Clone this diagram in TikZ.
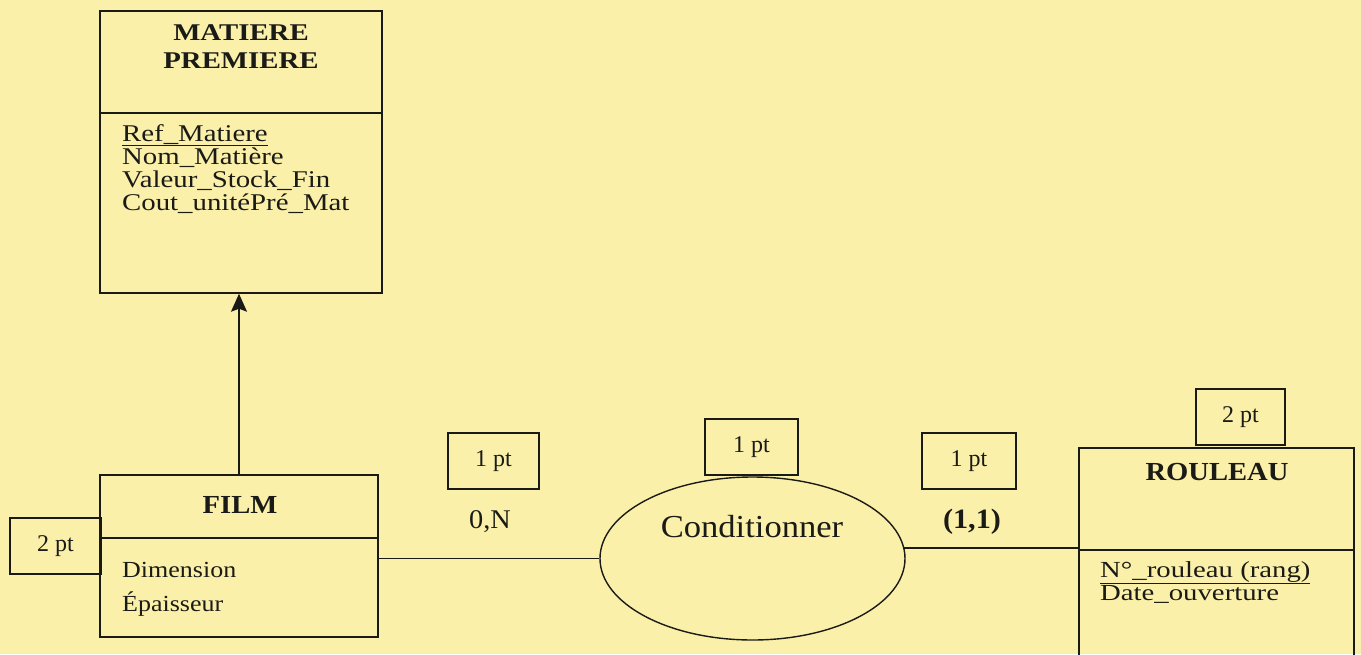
\documentclass[tikz,border=0pt]{standalone}
\usepackage{graphicx}
\usepackage{fontspec}
\setmainfont{Liberation Serif}
\usetikzlibrary{arrows.meta,shapes.geometric}
\definecolor{bg}{HTML}{FBF0A9}
\definecolor{ink}{HTML}{1A1A16}
\newcommand{\hsx}[2]{\scalebox{#1}[1]{#2}}
\newcommand{\fsz}[1]{\fontsize{#1}{#1}\selectfont}
\begin{document}
\begin{tikzpicture}[x=1pt,y=-1pt,
  ent/.style={draw=ink, line width=1.4pt, inner sep=0pt, rectangle},
  ptbox/.style={draw=ink, line width=1.4pt, inner sep=0pt, rectangle, minimum height=56pt, font=\fsz{24}, text=ink},
  assoc/.style={draw=ink, line width=1.4pt, inner sep=0pt, ellipse},
  conn/.style={draw=ink, line width=1.4pt},
  lbl/.style={inner sep=0pt, anchor=base, text=ink},
  attr/.style={inner sep=0pt, anchor=base west, text=ink}]
\useasboundingbox (0,0) rectangle (1361,654);
\fill[bg] (0,0) rectangle (1361,654);
\clip (0,0) rectangle (1361,654);

% MATIERE PREMIERE
\node[ent, minimum width=282pt, minimum height=282pt] (mp) at (241,152) {};
\draw[conn] (mp.west |- 0,113) -- (mp.east |- 0,113);
\node[lbl, font=\bfseries\fsz{24}] (mpt1) at (241,40) {\hsx{1.2}{MATIERE}};
\node[lbl, font=\bfseries\fsz{24}] (mpt2) at (241,68) {\hsx{1.2}{PREMIERE}};
\node[attr, font=\fsz{24}] (mpa1) at (122,141) {\hsx{1.2}{\underline{Ref\_Matiere}}};
\node[attr, font=\fsz{24}] (mpa2) at (122,164) {\hsx{1.2}{Nom\_Matière}};
\node[attr, font=\fsz{24}] (mpa3) at (122,187) {\hsx{1.2}{Valeur\_Stock\_Fin}};
\node[attr, font=\fsz{24}] (mpa4) at (122,210) {\hsx{1.2}{Cout\_unitéPré\_Mat}};

% FILM
\node[ent, minimum width=278pt, minimum height=162pt] (film) at (239,556) {};
\draw[conn] (film.west |- 0,538) -- (film.east |- 0,538);
\node[lbl, font=\bfseries\fsz{26}] (filmt) at (240,513) {\hsx{1.1}{FILM}};
\node[attr, font=\fsz{23}] (filma1) at (122,577) {\hsx{1.13}{Dimension}};
\node[attr, font=\fsz{23}] (filma2) at (122,611) {\hsx{1.13}{Épaisseur}};
\node[ptbox, minimum width=91pt] (ptfilm) at (55.5,546) {2 pt};

% Conditionner
\node[assoc, minimum width=305pt, minimum height=163pt] (cond) at (752.5,558.5) {};
\node[lbl, font=\fsz{32}] (condt) at (752,537) {\hsx{1.08}{Conditionner}};
\node[ptbox, minimum width=93pt] (ptcond) at (751.5,447) {1 pt};

% ROULEAU
\node[ent, minimum width=275pt, minimum height=232pt] (rou) at (1216.5,564) {};
\draw[conn] (rou.west |- 0,550) -- (rou.east |- 0,550);
\node[ptbox, minimum width=89pt] (ptrou) at (1240.5,417) {2 pt};
\node[lbl, font=\bfseries\fsz{26}] (rout) at (1217,480) {\hsx{1.1}{ROULEAU}};
\node[attr, font=\fsz{23}] (roua1) at (1100,577) {\hsx{1.25}{\underline{N°\_rouleau (rang)}}};
\node[attr, font=\fsz{23}] (roua2) at (1100,600) {\hsx{1.25}{Date\_ouverture}};

% cardinalities
\node[ptbox, minimum width=91pt] (ptleft) at (493.5,461) {1 pt};
\node[lbl, font=\fsz{27}] (cardl) at (490,528) {\hsx{1.05}{0,N}};
\node[ptbox, minimum width=94pt] (ptright) at (969,461) {1 pt};
\node[lbl, font=\bfseries\fsz{28}] (cardr) at (972,528) {\hsx{1.08}{(1,1)}};

% connectors
\draw[conn, -{Stealth[length=18pt,width=16pt,inset=3pt]}] (film.north) -- (film.north |- mp.south);
\draw[conn] (film.east |- cond.west) -- (cond.west);
\coordinate (ce) at (cond.4.3);
\draw[conn] (ce) -- (ce -| rou.west);
\end{tikzpicture}
\end{document}
